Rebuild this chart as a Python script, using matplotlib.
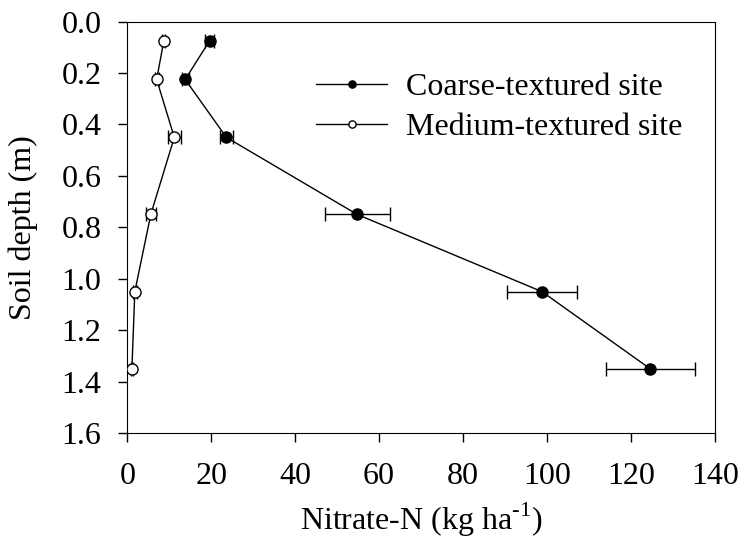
import matplotlib.pyplot as plt
import numpy as np

plt.rcParams['font.family'] = ['Liberation Serif', 'DejaVu Serif']
plt.rcParams['mathtext.fontset'] = 'custom'
plt.rcParams['mathtext.rm'] = 'Liberation Serif'

depth = [0.075, 0.225, 0.45, 0.75, 1.05, 1.35]

coarse = [19.6, 13.8, 23.6, 54.8, 98.8, 124.6]
coarse_err = [1.0, 0.8, 1.5, 7.7, 8.3, 10.6]

medium = [8.7, 7.0, 11.2, 5.6, 1.8, 1.1]
medium_err = [0.4, 0.5, 1.5, 1.2, 0.4, 0.3]

fs = 23

fig = plt.figure(figsize=(7.4, 5.4), dpi=100)
ax = fig.add_axes([0.172, 0.198, 0.794, 0.762])

# error bars first, then lines + markers on top
ax.errorbar(coarse, depth, xerr=coarse_err, fmt='none', ecolor='black',
            elinewidth=1, capsize=5, capthick=1, zorder=2)
ax.errorbar(medium, depth, xerr=medium_err, fmt='none', ecolor='black',
            elinewidth=1, capsize=5, capthick=1, zorder=2)

ax.plot(coarse, depth, color='black', lw=1, marker='o', ms=8,
        mfc='black', mec='black', label='Coarse-textured site', zorder=3)
ax.plot(medium, depth, color='black', lw=1, marker='o', ms=8,
        mfc='white', mec='black', label='Medium-textured site', zorder=3)

ax.set_xlim(0, 140)
ax.set_ylim(1.6, 0.0)
ax.set_xticks(np.arange(0, 141, 20))
ax.set_yticks(np.arange(0, 1.61, 0.2))
ax.set_yticklabels(['%.1f' % v for v in np.arange(0, 1.61, 0.2)])
ax.tick_params(labelsize=fs, direction='out', length=6.5, width=1)
ax.tick_params(axis='y', pad=12)
ax.tick_params(axis='x', pad=14)

ax.set_xlabel('Nitrate-N (kg ha$^{\\text{-1}}$)', fontsize=fs, labelpad=7)
ax.set_ylabel('Soil depth (m)', fontsize=fs, labelpad=17)

leg = ax.legend(loc='upper left', bbox_to_anchor=(0.322, 0.875), frameon=False,
                fontsize=fs, markerscale=0.65, handlelength=2.2,
                handletextpad=0.6, labelspacing=0.32, borderpad=0,
                borderaxespad=0)

fig.savefig('out.png', dpi=100)
